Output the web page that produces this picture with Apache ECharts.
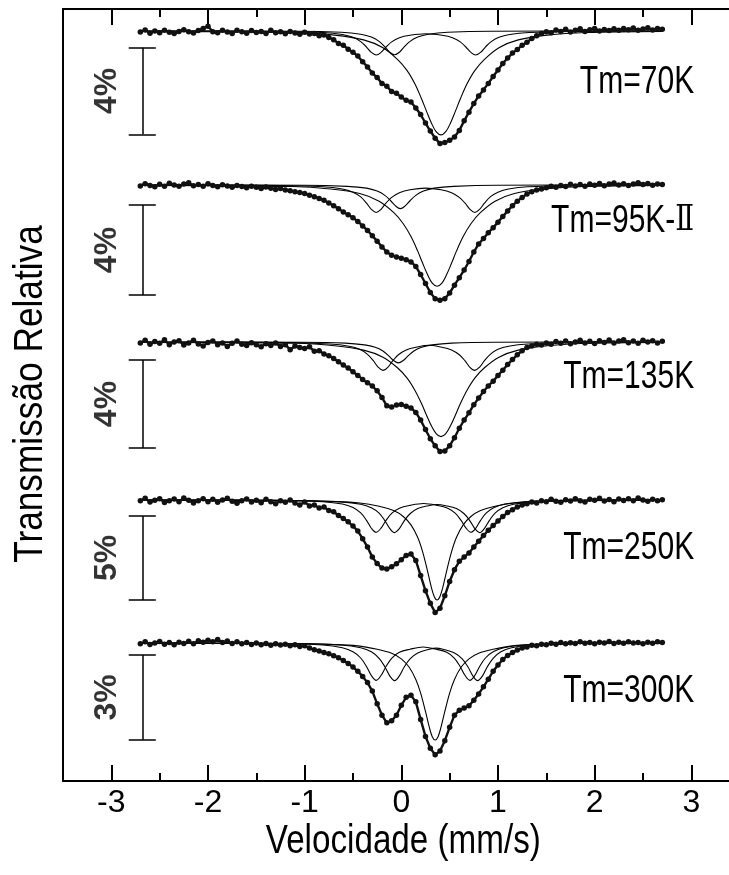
<!DOCTYPE html>
<html>
<head>
<meta charset="utf-8">
<script src="https://cdn.jsdelivr.net/npm/echarts@6/dist/echarts.min.js"></script>
<style>html,body{margin:0;padding:0;background:#fff;overflow:hidden}#c{width:729px;height:875px}</style>
</head>
<body>
<div id="c"></div>
<script>
// ---------- data ----------
const SPECTRA = ['70K', '95K', '135K', '250K', '300K'];
const TM_LABELS = ['Tm=70K', 'Tm=95K-{r|Ⅱ}', 'Tm=135K', 'Tm=250K', 'Tm=300K'];
const SCALE_TEXT = ['4%', '4%', '4%', '5%', '3%'];
const SCALE_SPAN = [4, 4, 4, 5, 3];          // % absorption of the scale bar
const SCALE_TOP = [0.77, 0.89, 0.82, 0.95, 0.42];
const LABEL_DEPTH = [2.36, 1.60, 1.59, 2.86, 1.70];
const X_TICKS = [-3, -2, -1, 0, 1, 2, 3];
const X_MINOR = [-2.5, -1.5, -0.5, 0.5, 1.5, 2.5];
const X_TITLE = 'Velocidade (mm/s)';
const Y_TITLE = 'Transmissão Relativa';

// velocity channels (mm/s)
const VEL = [-2.7,-2.65,-2.6,-2.55,-2.5,-2.45,-2.4,-2.35,-2.3,-2.25,-2.2,-2.15,-2.1,-2.05,-2,-1.95,-1.9,-1.85,-1.8,-1.75,-1.7,-1.65,-1.6,-1.55,-1.5,-1.45,-1.4,-1.35,-1.3,-1.25,-1.2,-1.15,-1.1,-1.05,-1,-0.95,-0.9,-0.85,-0.8,-0.75,-0.7,-0.65,-0.6,-0.55,-0.5,-0.45,-0.4,-0.35,-0.3,-0.25,-0.2,-0.15,-0.1,-0.05,0,0.05,0.1,0.15,0.2,0.25,0.3,0.35,0.4,0.45,0.5,0.55,0.6,0.65,0.7,0.75,0.8,0.85,0.9,0.95,1,1.05,1.1,1.15,1.2,1.25,1.3,1.35,1.4,1.45,1.5,1.55,1.6,1.65,1.7,1.75,1.8,1.85,1.9,1.95,2,2.05,2.1,2.15,2.2,2.25,2.3,2.35,2.4,2.45,2.5,2.55,2.6,2.65,2.7];

// measured absorption (% below baseline)
const DATA_70 = [0.05,-0.05,0.10,0.00,0.08,-0.04,0.06,0.12,0.02,-0.06,
 0.04,0.09,-0.02,-0.12,-0.22,0.03,0.08,-0.04,0.05,0.11,
 -0.03,0.04,0.10,-0.02,0.07,0.02,0.12,-0.03,0.08,0.04,
 0.13,0.02,0.09,0.15,0.06,0.14,0.12,0.22,0.18,0.30,
 0.40,0.58,0.66,0.84,0.98,1.16,1.42,1.66,1.94,2.15,
 2.42,2.55,2.80,2.88,3.05,3.20,3.28,3.56,3.86,4.25,
 4.62,4.95,5.20,5.15,5.05,4.90,4.60,4.15,3.75,3.35,
 3.00,2.72,2.42,2.10,1.80,1.50,1.25,1.02,0.85,0.66,
 0.52,0.35,0.22,0.12,0.04,0.08,-0.05,0.02,-0.08,0.05,
 -0.03,-0.10,0.02,-0.06,-0.12,0.00,-0.07,-0.02,-0.10,-0.04,
 -0.12,-0.06,-0.14,-0.03,-0.09,-0.15,-0.05,-0.11,-0.08];
const DATA_95 = [0.04,-0.06,0.02,0.08,-0.03,0.05,-0.08,0.00,0.06,-0.04,
 -0.10,0.03,-0.02,0.05,-0.06,0.02,0.08,-0.01,0.04,0.10,
 0.02,0.07,0.12,0.05,0.10,0.16,0.09,0.14,0.20,0.15,
 0.22,0.26,0.30,0.33,0.38,0.45,0.52,0.60,0.68,0.80,
 0.92,1.05,1.20,1.32,1.45,1.62,1.82,2.02,2.25,2.50,
 2.75,2.98,3.12,3.20,3.26,3.32,3.42,3.62,3.98,4.38,
 4.78,5.05,5.12,5.05,4.80,4.45,4.12,3.78,3.40,2.98,
 2.62,2.38,2.12,1.90,1.65,1.40,1.15,0.92,0.72,0.55,
 0.40,0.30,0.22,0.18,0.12,0.06,0.10,0.02,0.07,-0.03,
 0.04,-0.02,0.05,-0.05,0.01,-0.07,0.03,-0.04,-0.09,0.00,
 -0.06,0.02,-0.05,-0.10,-0.02,-0.07,0.01,-0.04,-0.02];
const DATA_135 = [0.05,-0.08,0.10,-0.02,0.06,-0.10,0.12,0.00,-0.06,0.14,
 0.04,-0.08,0.09,0.18,0.02,-0.05,0.12,0.04,0.20,0.06,
 -0.04,0.10,0.16,0.03,0.12,0.22,0.08,0.16,0.05,0.20,
 0.12,0.35,0.18,0.25,0.30,0.22,0.42,0.40,0.55,0.62,
 0.75,0.90,1.05,1.18,1.35,1.52,1.70,1.85,2.00,2.22,
 2.52,2.90,2.96,2.86,2.84,2.92,3.00,3.20,3.55,3.98,
 4.40,4.72,4.98,4.95,4.72,4.35,3.92,3.55,3.22,2.85,
 2.55,2.25,2.00,1.78,1.52,1.28,1.02,0.80,0.58,0.40,
 0.25,0.18,0.10,0.14,0.04,0.10,-0.02,0.06,-0.05,0.08,
 0.00,-0.08,0.05,-0.03,0.07,-0.06,0.02,-0.09,0.04,-0.04,
 -0.10,0.03,-0.05,0.06,-0.08,0.00,-0.06,0.04,-0.03];
const DATA_250 = [0.05,-0.10,0.12,0.02,-0.08,0.15,0.04,-0.06,0.10,-0.12,
 0.02,0.18,0.05,-0.08,0.10,-0.04,0.14,0.00,-0.10,0.08,
 0.20,0.04,-0.06,0.12,0.02,0.16,-0.04,0.10,0.22,0.05,
 0.14,0.00,0.18,0.30,0.12,0.35,0.30,0.48,0.42,0.62,
 0.70,0.92,1.10,1.30,1.55,1.85,2.30,2.80,3.40,3.78,
 4.05,4.10,3.98,3.80,3.55,3.30,3.22,3.60,4.50,5.40,
 6.15,6.70,6.45,5.70,4.85,4.15,3.65,3.40,3.15,2.80,
 2.45,2.12,1.80,1.52,1.25,0.98,0.75,0.58,0.42,0.30,
 0.22,0.12,0.18,0.05,0.10,-0.04,0.08,0.14,-0.02,0.06,
 -0.08,0.04,0.12,-0.05,0.02,-0.10,0.06,-0.03,0.10,-0.06,
 0.03,-0.08,0.05,-0.12,0.00,0.08,-0.05,0.04,-0.02];
const DATA_300 = [0.03,-0.04,0.05,0.00,-0.05,0.04,-0.02,0.06,-0.03,0.02,
 -0.06,0.03,-0.08,-0.03,-0.10,-0.04,-0.12,-0.02,-0.07,0.02,
 -0.04,0.03,-0.02,0.05,0.00,0.06,0.02,0.08,0.03,0.07,
 0.04,0.10,0.06,0.12,0.10,0.18,0.24,0.28,0.34,0.38,
 0.45,0.52,0.62,0.72,0.85,1.00,1.18,1.40,1.70,2.15,
 2.55,2.82,2.75,2.55,2.20,1.92,1.85,2.08,2.70,3.30,
 3.72,3.95,3.82,3.45,2.98,2.55,2.38,2.30,2.22,2.02,
 1.80,1.55,1.28,1.00,0.78,0.58,0.44,0.34,0.25,0.18,
 0.14,0.08,0.10,0.04,0.06,0.01,0.04,-0.02,0.03,-0.01,
 0.02,-0.04,0.01,-0.02,0.03,-0.03,0.00,-0.05,0.02,-0.03,
 0.01,-0.04,0.00,-0.02,0.03,-0.03,0.01,-0.04,-0.02];

// fitted sub-spectra ([velocity, absorption %])
const FIT_B_70 = [[-2.7,0.02],[-1.09,0.07],[-0.69,0.19],[-0.39,0.41],[-0.19,0.77],[-0.04,1.31],[0.06,1.83],[0.14,2.44],[0.21,3.14],[0.26,3.70],[0.31,4.24],[0.36,4.65],[0.41,4.80],[0.46,4.65],[0.51,4.24],[0.56,3.70],[0.61,3.14],[0.68,2.44],[0.76,1.83],[0.86,1.31],[1.01,0.77],[1.21,0.41],[1.51,0.19],[1.91,0.07],[2.7,0.02]];
const FIT_D1_70 = [[-2.7,0],[-1.26,0.02],[-0.81,0.07],[-0.61,0.16],[-0.50,0.29],[-0.42,0.49],[-0.36,0.74],[-0.31,0.99],[-0.26,1.11],[-0.21,0.99],[-0.16,0.75],[-0.10,0.50],[-0.02,0.31],[0.09,0.20],[0.255,0.13],[0.42,0.20],[0.53,0.31],[0.61,0.50],[0.67,0.75],[0.72,0.99],[0.77,1.11],[0.82,0.99],[0.87,0.74],[0.93,0.49],[1.01,0.29],[1.12,0.16],[1.32,0.07],[1.77,0.02],[2.7,0]];
const FIT_D2_70 = [[-2.7,0],[-1.07,0.01],[-0.62,0.06],[-0.42,0.15],[-0.31,0.28],[-0.23,0.48],[-0.17,0.73],[-0.12,0.98],[-0.07,1.10],[-0.02,0.98],[0.03,0.73],[0.09,0.48],[0.17,0.28],[0.28,0.15],[0.48,0.06],[0.93,0.01],[2.7,0]];
const FIT_B_95 = [[-2.7,0.02],[-1.13,0.07],[-0.73,0.18],[-0.43,0.38],[-0.23,0.72],[-0.08,1.22],[0.02,1.72],[0.10,2.29],[0.17,2.94],[0.22,3.47],[0.27,3.97],[0.32,4.36],[0.37,4.50],[0.42,4.36],[0.47,3.97],[0.52,3.47],[0.57,2.94],[0.64,2.29],[0.72,1.72],[0.82,1.22],[0.97,0.72],[1.17,0.38],[1.47,0.18],[1.87,0.07],[2.7,0.02]];
const FIT_D1_95 = [[-2.7,0],[-1.26,0.02],[-0.81,0.08],[-0.61,0.18],[-0.50,0.32],[-0.42,0.53],[-0.36,0.81],[-0.31,1.08],[-0.26,1.22],[-0.21,1.08],[-0.16,0.81],[-0.10,0.55],[-0.02,0.34],[0.09,0.21],[0.25,0.14],[0.41,0.21],[0.52,0.34],[0.60,0.55],[0.66,0.81],[0.71,1.08],[0.76,1.22],[0.81,1.08],[0.86,0.81],[0.92,0.53],[1.00,0.32],[1.11,0.18],[1.31,0.08],[1.76,0.02],[2.7,0]];
const FIT_D2_95 = [[-2.7,0],[-1.01,0.01],[-0.56,0.06],[-0.36,0.14],[-0.25,0.27],[-0.17,0.46],[-0.11,0.70],[-0.06,0.93],[-0.01,1.05],[0.04,0.93],[0.09,0.70],[0.15,0.46],[0.23,0.27],[0.34,0.14],[0.54,0.06],[0.99,0.01],[2.7,0]];
const FIT_B_135 = [[-2.7,0.02],[-1.09,0.06],[-0.69,0.17],[-0.39,0.37],[-0.19,0.69],[-0.04,1.17],[0.06,1.64],[0.14,2.19],[0.21,2.81],[0.26,3.32],[0.31,3.80],[0.36,4.16],[0.41,4.30],[0.46,4.16],[0.51,3.80],[0.56,3.32],[0.61,2.81],[0.68,2.19],[0.76,1.64],[0.86,1.17],[1.01,0.69],[1.21,0.37],[1.51,0.17],[1.91,0.06],[2.7,0.02]];
const FIT_D1_135 = [[-2.7,0],[-1.19,0.02],[-0.74,0.09],[-0.54,0.19],[-0.43,0.33],[-0.35,0.56],[-0.29,0.85],[-0.24,1.14],[-0.19,1.29],[-0.14,1.15],[-0.09,0.86],[-0.03,0.58],[0.05,0.36],[0.16,0.23],[0.285,0.15],[0.41,0.23],[0.52,0.36],[0.60,0.58],[0.66,0.86],[0.71,1.15],[0.76,1.29],[0.81,1.14],[0.86,0.85],[0.92,0.56],[1.00,0.33],[1.11,0.19],[1.31,0.09],[1.76,0.02],[2.7,0]];
const FIT_D2_135 = [[-2.7,0],[-1.03,0.01],[-0.58,0.05],[-0.38,0.13],[-0.27,0.24],[-0.19,0.41],[-0.13,0.63],[-0.08,0.84],[-0.03,0.95],[0.02,0.84],[0.07,0.63],[0.13,0.41],[0.21,0.24],[0.32,0.13],[0.52,0.05],[0.97,0.01],[2.7,0]];
const FIT_B_250 = [[-2.7,0.01],[-1.13,0.04],[-0.73,0.09],[-0.43,0.18],[-0.23,0.37],[-0.08,0.63],[0.02,0.98],[0.10,1.48],[0.17,2.23],[0.22,3.07],[0.27,4.20],[0.31,5.18],[0.34,5.74],[0.37,5.95],[0.40,5.74],[0.43,5.18],[0.47,4.20],[0.52,3.07],[0.57,2.23],[0.64,1.48],[0.72,0.98],[0.82,0.63],[0.97,0.37],[1.17,0.18],[1.47,0.09],[1.87,0.04],[2.7,0.01]];
const FIT_D1_250 = [[-2.7,0],[-1.26,0.02],[-0.81,0.10],[-0.61,0.24],[-0.50,0.45],[-0.42,0.77],[-0.36,1.21],[-0.31,1.68],[-0.26,1.92],[-0.21,1.68],[-0.16,1.23],[-0.10,0.80],[-0.02,0.49],[0.09,0.32],[0.23,0.21],[0.37,0.32],[0.48,0.49],[0.56,0.80],[0.62,1.23],[0.67,1.68],[0.72,1.92],[0.77,1.68],[0.82,1.21],[0.88,0.77],[0.96,0.45],[1.07,0.24],[1.27,0.10],[1.72,0.02],[2.7,0]];
const FIT_D2_250 = [[-2.7,0],[-1.07,0.03],[-0.62,0.11],[-0.42,0.25],[-0.31,0.46],[-0.23,0.78],[-0.17,1.23],[-0.12,1.69],[-0.07,1.94],[-0.02,1.70],[0.03,1.24],[0.09,0.82],[0.17,0.51],[0.28,0.34],[0.37,0.27],[0.46,0.34],[0.57,0.51],[0.65,0.82],[0.71,1.24],[0.76,1.70],[0.81,1.94],[0.86,1.69],[0.91,1.23],[0.97,0.78],[1.05,0.46],[1.16,0.25],[1.36,0.11],[1.81,0.03],[2.7,0]];
const FIT_B_300 = [[-2.7,0.01],[-1.15,0.02],[-0.75,0.05],[-0.45,0.10],[-0.25,0.22],[-0.10,0.36],[0.0,0.56],[0.08,0.85],[0.15,1.29],[0.20,1.77],[0.25,2.42],[0.29,2.98],[0.32,3.31],[0.35,3.43],[0.38,3.31],[0.41,2.98],[0.45,2.42],[0.50,1.77],[0.55,1.29],[0.62,0.85],[0.70,0.56],[0.80,0.36],[0.95,0.22],[1.15,0.10],[1.45,0.05],[1.85,0.02],[2.7,0.01]];
const FIT_D1_300 = [[-2.7,0],[-1.26,0.02],[-0.81,0.07],[-0.61,0.17],[-0.50,0.31],[-0.42,0.53],[-0.36,0.83],[-0.31,1.15],[-0.26,1.32],[-0.21,1.15],[-0.16,0.84],[-0.10,0.54],[-0.02,0.33],[0.09,0.22],[0.225,0.14],[0.36,0.22],[0.47,0.33],[0.55,0.54],[0.61,0.84],[0.66,1.15],[0.71,1.32],[0.76,1.15],[0.81,0.83],[0.87,0.53],[0.95,0.31],[1.06,0.17],[1.26,0.07],[1.71,0.02],[2.7,0]];
const FIT_D2_300 = [[-2.7,0],[-1.07,0.02],[-0.62,0.07],[-0.42,0.17],[-0.31,0.31],[-0.23,0.54],[-0.17,0.84],[-0.12,1.16],[-0.07,1.33],[-0.02,1.16],[0.03,0.85],[0.09,0.56],[0.17,0.35],[0.28,0.23],[0.36,0.18],[0.44,0.23],[0.55,0.35],[0.63,0.56],[0.69,0.85],[0.74,1.16],[0.79,1.33],[0.84,1.16],[0.89,0.84],[0.95,0.54],[1.03,0.31],[1.14,0.17],[1.34,0.07],[1.79,0.02],[2.7,0]];

const MEASURED = [DATA_70, DATA_95, DATA_135, DATA_250, DATA_300];
const FITS = [
  [FIT_B_70, FIT_D1_70, FIT_D2_70],
  [FIT_B_95, FIT_D1_95, FIT_D2_95],
  [FIT_B_135, FIT_D1_135, FIT_D2_135],
  [FIT_B_250, FIT_D1_250, FIT_D2_250],
  [FIT_B_300, FIT_D1_300, FIT_D2_300]
];

// ---------- layout (pixels / styles) ----------
const GRID_TOP = 9, GRID_BOTTOM = 94, PLOT_H = 875 - GRID_TOP - GRID_BOTTOM;
const BASE_PX = [31, 185, 342, 500, 643];     // baseline position of each spectrum
const PX_PER_PCT = [21.65, 22.5, 22, 16.8, 28.3];
const X_MIN = -3.5, X_MAX = 3.39;             // right frame edge lies just outside the picture
const SANS = "'Liberation Sans',Arial,Helvetica,sans-serif";
const BAR_X = -2.68, CAP = 0.14, PCT_X = -3.04, TM_X = 3.03;

const yAxes = SPECTRA.map((s, i) => {
  const k = PX_PER_PCT[i];
  const min = -(BASE_PX[i] - GRID_TOP) / k;
  return {
    type: 'value', gridIndex: 0, inverse: true, min: min, max: min + PLOT_H / k,
    position: 'left',
    splitLine: { show: false }, axisTick: { show: false }, axisLabel: { show: false },
    axisLine: { show: i === 0, onZero: false, lineStyle: { color: '#000', width: 2 } },
    show: i === 0
  };
});

function xAxisCfg(pos, ticks, len, withLine, labels) {
  return {
    type: 'value', position: pos, min: X_MIN, max: X_MAX, gridIndex: 0,
    splitLine: { show: false },
    axisLine: { show: withLine, onZero: false, lineStyle: { color: '#000', width: 2 } },
    axisTick: { show: true, inside: true, length: len, customValues: ticks, lineStyle: { color: '#000', width: 2 } },
    axisLabel: labels ? { show: true, customValues: ticks, margin: 6, fontFamily: SANS, fontSize: 32, color: '#000' } : { show: false }
  };
}
const xAxes = [
  xAxisCfg('bottom', X_TICKS, 16, true, true),
  xAxisCfg('top', X_TICKS, 16, true, false),
  xAxisCfg('bottom', X_MINOR, 8, false, false),
  xAxisCfg('top', X_MINOR, 8, false, false)
];

const series = [];
const dataSeriesIndex = [];
SPECTRA.forEach((name, i) => {
  FITS[i].forEach((comp) => {
    series.push({
      type: 'line', xAxisIndex: 0, yAxisIndex: i, data: comp, smooth: 0.35,
      symbol: 'none', lineStyle: { color: '#000', width: 1.1 }
    });
  });
  const top = SCALE_TOP[i], bot = SCALE_TOP[i] + SCALE_SPAN[i];
  dataSeriesIndex.push(series.length);
  series.push({
    type: 'line', xAxisIndex: 0, yAxisIndex: i,
    data: VEL.map((v, j) => [v, MEASURED[i][j]]),
    symbol: 'circle', symbolSize: 5.5, showSymbol: true, showAllSymbol: true,
    itemStyle: { color: '#111' }, lineStyle: { color: '#111', width: 2.4 },
    markLine: {
      silent: true, symbol: ['none', 'none'], label: { show: false }, animation: false,
      lineStyle: { color: '#000', width: 1.5, type: 'solid' },
      data: [
        [{ coord: [BAR_X, top] }, { coord: [BAR_X, bot] }],
        [{ coord: [BAR_X - CAP, top] }, { coord: [BAR_X + CAP, top] }],
        [{ coord: [BAR_X - CAP, bot] }, { coord: [BAR_X + CAP, bot] }]
      ]
    }
  });
  series.push({
    type: 'scatter', xAxisIndex: 0, yAxisIndex: i, symbolSize: 1,
    itemStyle: { color: 'rgba(0,0,0,0)' },
    data: [[PCT_X, (top + bot) / 2]],
    label: { show: true, position: 'inside', rotate: 90, formatter: SCALE_TEXT[i],
      fontFamily: SANS, fontWeight: 'bold', fontSize: 32, color: '#000' }
  });
});

const chart = echarts.init(document.getElementById('c'));
chart.setOption({
  animation: false,
  grid: { left: 63, right: 0, top: GRID_TOP, bottom: GRID_BOTTOM, containLabel: false, outerBoundsMode: 'none' },
  xAxis: xAxes,
  yAxis: yAxes,
  series: series
});

// condensed (Arial-Narrow-like) texts, placed through the chart's own coordinate conversion
const graphics = [];
SPECTRA.forEach((name, i) => {
  const p = chart.convertToPixel({ seriesIndex: dataSeriesIndex[i] }, [TM_X, LABEL_DEPTH[i]]);
  graphics.push({
    type: 'text', x: p[0], y: p[1], scaleX: 0.77, silent: true,
    style: { text: TM_LABELS[i], fontFamily: SANS, fontSize: 39, fill: '#000', align: 'right', verticalAlign: 'middle',
      rich: { r: { fontFamily: "'DejaVu Serif','Liberation Serif',serif", fontSize: 36, fill: '#000' } } }
  });
});
const xMid = chart.convertToPixel({ xAxisIndex: 0 }, 0);
graphics.push({
  type: 'text', x: xMid + 2, y: 842, scaleX: 0.81, silent: true,
  style: { text: X_TITLE, fontFamily: SANS, fontSize: 41, fill: '#000', align: 'center', verticalAlign: 'middle' }
});
graphics.push({
  type: 'text', x: 31, y: 394, rotation: Math.PI / 2, scaleX: 0.86, silent: true,
  style: { text: Y_TITLE, fontFamily: SANS, fontSize: 41, fill: '#000', align: 'center', verticalAlign: 'middle' }
});
chart.setOption({ graphic: graphics });
</script>
</body>
</html>
